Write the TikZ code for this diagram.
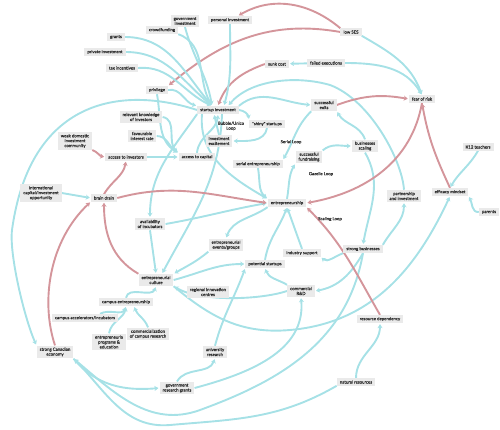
\documentclass[tikz,border=0pt]{standalone}
\usepackage{fontspec}
\setmainfont{Lato}
\newfontfamily\boxfont[FakeBold=0.12]{Lato}
\newfontfamily\loopfont[FakeBold=0.3]{Lato}
\usetikzlibrary{arrows.meta,backgrounds}
\definecolor{boxgray}{RGB}{234,234,234}
\definecolor{textgray}{RGB}{45,45,45}
\definecolor{cyanl}{RGB}{166,225,230}
\definecolor{redl}{RGB}{212,149,155}
\begin{document}
\begin{tikzpicture}[x=1pt,y=1pt,
  box/.style={fill=boxgray, text=textgray, font=\boxfont\fontsize{4.3}{4.9}\selectfont, inner xsep=3pt, inner ysep=2pt, align=center},
  lbl/.style={text=textgray, font=\loopfont\fontsize{4.3}{4.9}\selectfont, align=center},
  plink/.style={draw=cyanl, line width=1.9pt, -{Stealth[length=4pt,width=5pt]}, shorten >=1pt},
  nlink/.style={draw=redl, line width=1.9pt, -{Stealth[length=4pt,width=5pt]}, shorten >=1pt}]
\useasboundingbox (0,0) rectangle (500,-430);
\node[box] (gi) at (185,-21) {government\\investment};
\node[box] (cf) at (162,-30) {crowdfunding};
\node[box] (pi) at (230,-20) {personal investment};
\node[box] (ses) at (351,-32) {low SES};
\node[box] (gr) at (116,-37) {grants};
\node[box] (pv) at (105,-52) {private investment};
\node[box] (ti) at (122,-68) {tax incentives};
\node[box] (sc) at (277,-64) {sunk cost};
\node[box] (fe) at (326,-63) {failed executions};
\node[box] (prv) at (157,-90) {privilege};
\node[box] (si) at (218,-110) {startup investment};
\node[box] (se) at (324,-105) {successful\\exits};
\node[box] (fr) at (422,-99) {fear of risk};
\node[box] (rk) at (141,-117) {relevant knowledge\\of investors};
\node[box] (fi) at (142,-136) {favourable\\interest rate};
\node[box] (sh) at (267,-124) {"shiny" startups};
\node[box] (ie) at (219,-141) {investment\\excitement};
\node[box] (wd) at (75,-141) {weak domestic\\investment\\community};
\node[box] (ai) at (126,-157) {access to investors};
\node[box] (ac) at (197,-157) {access to capital};
\node[box] (ser) at (258,-164) {serial entrepreneurship};
\node[box] (sf) at (309,-157) {successful\\fundraising};
\node[box] (bs) at (365,-146) {businesses\\scaling};
\node[box] (k12) at (478,-147) {K12 teachers};
\node[box] (icap) at (41,-193) {international\\capital/investment\\opportunity};
\node[box] (bd) at (104,-198) {brain drain};
\node[box] (en) at (287,-203) {entrepreneurship};
\node[box] (pa) at (404,-196) {partnership\\and investment};
\node[box] (em) at (450,-192) {efficacy mindset};
\node[box] (par) at (489,-212) {parents};
\node[box] (ainc) at (150,-224) {availability\\of incubators};
\node[box] (ev) at (226,-245) {entrepreneurial\\events/groups};
\node[box] (is) at (302,-253) {industry support};
\node[box] (sb) at (363,-249) {strong businesses};
\node[box] (ps) at (265,-264) {potential startups};
\node[box] (ec) at (156,-280) {entrepreneurial\\culture};
\node[box] (ric) at (208,-292) {regional innovation\\centres};
\node[box] (crd) at (301,-291) {commercial\\R\&D};
\node[box] (rd) at (380,-319) {resource dependency};
\node[box] (ce) at (126,-302) {campus entrepreneurship};
\node[box] (ca) at (85,-318) {campus accelerators/incubators};
\node[box] (ccr) at (148,-334) {commercialization\\of campus research};
\node[box] (epe) at (109,-342) {entrepreneuria\\programs \&\\education};
\node[box] (sce) at (55,-352) {strong Canadian\\economy};
\node[box] (ur) at (215,-352) {university\\research};
\node[box] (grg) at (177,-388) {government\\research grants};
\node[box] (nr) at (356,-382) {natural resources};
\node[lbl] (l1) at (231,-126) {Bubble/Unico\\Loop};
\node[lbl] (l2) at (291,-142) {Serial Loop};
\node[lbl] (l3) at (321,-174) {Gazelle Loop};
\node[lbl] (l4) at (330,-219) {Scaling Loop};
\begin{scope}[on background layer]
\coordinate (sin) at ([xshift=-6pt]si.north);
\draw[nlink] (ses.north west) to[out=140,in=30] ([xshift=8pt]pi.north);
\draw[nlink] (ses.west) to[out=170,in=40] (prv.north east);
\draw[plink] (ses.south east) to[out=-30,in=110] (fr.north);
\draw[plink] (fe) -- (sc);
\draw[plink] (fe.east) to[out=0,in=120] (fr.north);
\draw[nlink] (sc.west) to[out=200,in=70] (si.north);
\draw[plink] (gi.south) to[out=-75,in=100] (sin);
\draw[plink] (cf.south east) to[out=-20,in=120] (sin);
\draw[plink] (pi.south) to[out=-90,in=75] ([xshift=6pt]si.north);
\draw[plink] (gr.east) to[out=0,in=130] (sin);
\draw[plink] (pv.east) to[out=0,in=140] (sin);
\draw[plink] (ti.east) to[out=5,in=155] (sin);
\draw[plink] (prv.east) to[out=10,in=165] (si.north west);
\draw[plink] (prv.south) to[out=-80,in=150] (ac.north west);
\draw[plink] (rk.east) to[out=-10,in=140] (ac.north west);
\draw[plink] (fi.east) to[out=0,in=150] (ac.north west);
\draw[plink] (ai.east) -- (ac.west);
\draw[plink] (ac.north) to[out=85,in=-95] (si.south);
\draw[plink] (si.west) .. controls (120,-85) and (30,-100) .. (12,-230) .. controls (9,-255) and (25,-320) .. (sce.north west);
\draw[plink] (si.north east) to[out=40,in=175] (se.west);
\draw[plink] (si.east) to[out=-5,in=100] (sh.north west);
\draw[plink] (sh.south) to[out=-100,in=0] (ie.east);
\draw[plink] (ie.north) -- ([xshift=-4pt]si.south);
\draw[plink] ([xshift=-16pt]si.south) to[out=-95,in=150] (en.north west);
\draw[plink] ([xshift=4pt]si.south) to[out=-92,in=62] ([xshift=6pt]ec.north);
\draw[plink] (pa.north) .. controls (402,-160) and (370,-100) .. (330,-85) .. controls (295,-75) and (250,-80) .. ([xshift=10pt]si.north);
\draw[plink] (se.south west) to[out=225,in=60] (ser.north east);
\draw[plink] (ser.south) to[out=-80,in=140] (en.north west);
\draw[plink] (en.north) to[out=80,in=-120] (sf.south west);
\draw[plink] (sf.north east) to[out=40,in=180] (bs.west);
\draw[plink] (bs.north) to[out=110,in=-60] (se.south east);
\draw[plink] (bs.south) to[out=-60,in=80] (sb.north);
\draw[plink] (sb.north east) to[out=60,in=-90] (pa.south);
\draw[plink] (sb.south west) to[out=200,in=-40] (is.south east);
\draw[plink] (is.north) to[out=110,in=-70] (en.south);
\draw[plink] (sb.south) to[out=-120,in=10] (crd.east);
\draw[plink] (crd.north west) to[out=150,in=-70] (ps.south);
\draw[plink] (ur.north) to[out=75,in=-110] (ps.south west);
\draw[plink] (grg.north) to[out=60,in=-110] (ur.south);
\draw[plink] (grg.east) to[out=15,in=-85] (crd.south);
\draw[plink] (crd.west) .. controls (260,-300) and (200,-302) .. (ec.south east);
\draw[plink] (ec.east) to[out=15,in=180] (ps.west);
\draw[plink] (ev.south west) to[out=220,in=30] (ec.north east);
\draw[plink] (en.south west) to[out=215,in=70] (ev.north);
\draw[plink] (ps.north) to[out=80,in=-110] (en.south);
\draw[plink] (ainc.south) -- (ec.north);
\draw[plink] (ainc.east) to[out=10,in=190] (en.west);
\draw[plink] (si.south west) to[out=235,in=90] (ainc.north);
\draw[plink] (ce.north) to[out=80,in=-110] (ec.south);
\draw[plink] ([xshift=15pt]ca.north) to[out=30,in=-110] (ce.south);
\draw[plink] (epe.north) to[out=80,in=-100] (ce.south);
\draw[plink] (ccr.north) to[out=110,in=-70] ([xshift=8pt]ce.south);
\draw[plink] (sce.south east) to[out=-50,in=185] (grg.west);
\draw[plink] (ec.south east) to[out=-40,in=185] (290,-330) to[out=5,in=-115] (em.south);
\draw[plink] (sb.south) to[out=-100,in=20] (200,-410) to[out=200,in=-40] (sce.south east);
\draw[plink] (nr.south west) to[out=-150,in=5] (170,-425) to[out=185,in=-45] (sce.south east);
\draw[plink] (nr.north) to[out=90,in=-90] (rd.south);
\draw[nlink] (wd.south east) to[out=-20,in=170] (ai.west);
\draw[nlink] (bd.north) to[out=60,in=-100] (ai.south);
\draw[plink] (icap.east) -- (bd.west);
\draw[nlink] (bd.east) to[out=15,in=172] (en.west);
\draw[nlink] (ec.north west) to[out=150,in=-90] (bd.south);
\draw[nlink] (sce.north) .. controls (40,-300) and (50,-240) .. (bd.south west);
\draw[nlink] (rd.north) to[out=120,in=-45] (en.south east);
\draw[nlink] (fr.south) to[out=-100,in=10] (en.east);
\draw[nlink] (em.north) to[out=115,in=-80] (fr.south);
\draw[nlink] (se.east) to[out=20,in=170] (fr.west);
\draw[plink] (k12.south) to[out=-120,in=60] (em.north);
\draw[plink] (par.west) to[out=185,in=-60] (em.south east);
\end{scope}
\end{tikzpicture}
\end{document}
